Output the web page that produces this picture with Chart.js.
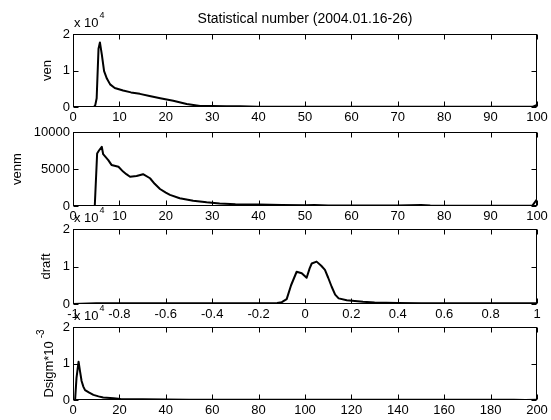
<!DOCTYPE html>
<html>
<head>
<meta charset="utf-8">
<script src="https://cdn.jsdelivr.net/npm/chart.js@4"></script>
<style>
  html, body { margin: 0; padding: 0; background: #fff; }
  #wrap { position: relative; width: 551px; height: 420px; overflow: hidden; }
  #wrap canvas { position: absolute; left: 0; }
</style>
</head>
<body>
<div id="wrap"></div>
<script>
// ---- data ----
const title = 'Statistical number (2004.01.16-26)'

// ven (x 10^4)
const venX = [0, 4.5, 4.8, 5.1, 5.5, 5.8, 6.2, 6.7, 7.3, 8, 9, 10.8, 12.5, 14.4, 16.5, 18.8, 21.6, 24.5, 27.4, 30, 33, 36, 40, 45, 50, 60, 70, 80, 90, 99, 100]
const venY = [0, 0, 0.05, 0.24, 1.6, 1.77, 1.45, 0.98, 0.78, 0.62, 0.52, 0.45, 0.40, 0.36, 0.30, 0.24, 0.17, 0.08, 0.03, 0.03, 0.02, 0.02, 0.01, 0.01, 0.005, 0.005, 0.005, 0.005, 0.005, 0.005, 0.06]

// venm
const venmX = [0, 4.5, 4.7, 5.2, 5.6, 6.2, 6.5, 7.6, 8.3, 9.8, 10.8, 11.5, 12.3, 13.7, 15.1, 16.6, 17.6, 18.75, 20, 20.9, 23, 25.9, 28.8, 31.6, 35, 40, 45, 50, 52, 55, 60, 70, 75, 77, 80, 90, 99, 100]
const venmY = [0, 0, 100, 7100, 7500, 8000, 7000, 6200, 5550, 5300, 4650, 4300, 3950, 4050, 4300, 3750, 3000, 2300, 1800, 1500, 1050, 700, 500, 350, 250, 200, 150, 100, 150, 80, 60, 60, 150, 60, 50, 50, 50, 900]

// draft (x 10^4)
const draftX = [-1, -0.9, -0.5, -0.2, -0.12, -0.1, -0.079, -0.06, -0.036, -0.014, 0.007, 0.02, 0.029, 0.05, 0.07, 0.086, 0.1, 0.115, 0.13, 0.145, 0.18, 0.25, 0.3, 0.4, 0.5, 0.6, 0.7, 0.8, 0.9, 1]
const draftY = [0, 0.02, 0.02, 0.02, 0.03, 0.05, 0.13, 0.5, 0.86, 0.82, 0.70, 0.95, 1.08, 1.13, 1.02, 0.91, 0.7, 0.46, 0.25, 0.15, 0.1, 0.06, 0.04, 0.03, 0.02, 0.02, 0.02, 0.02, 0.02, 0.02]

// Dsigm*10^-3 (x 10^4)
const dsigmX = [0, 0.9, 1.5, 2.4, 3.0, 3.7, 4.5, 5.2, 7, 8.8, 11, 13, 17.5, 20.5, 30, 50, 100, 150, 190, 195, 200]
const dsigmY = [0, 0, 0.6, 1.05, 0.8, 0.52, 0.36, 0.27, 0.2, 0.14, 0.1, 0.07, 0.05, 0.03, 0.02, 0.01, 0.01, 0.01, 0.01, 0.0, 0.01]

// axis ranges / ticks
const venXTicks = [0, 100, 10], venYTicks = [0, 2, 1]
const venmXTicks = [0, 100, 10], venmYTicks = [0, 10000, 5000]
const draftXTicks = [-1, 1, 0.2], draftYTicks = [0, 2, 1]
const dsigmXTicks = [0, 200, 20], dsigmYTicks = [0, 2, 1]

const FONT = "'Liberation Sans', Arial, Helvetica, sans-serif"
const TICK = 5

const panels = [
  { xs: venX, ys: venY, xt: venXTicks, yt: venYTicks, top: 34, bottom: 107, label: 'ven', labelPad: 40, expo: true, title: true },
  { xs: venmX, ys: venmY, xt: venmXTicks, yt: venmYTicks, top: 132, bottom: 206, label: 'venm', labelPad: 10, expo: false },
  { xs: draftX, ys: draftY, xt: draftXTicks, yt: draftYTicks, top: 229, bottom: 304, label: 'draft', labelPad: 39, expo: true },
  { xs: dsigmX, ys: dsigmY, xt: dsigmXTicks, yt: dsigmYTicks, top: 327, bottom: 400, label: null, labelPad: 0, expo: true, dsigm: true },
]

// box, inward ticks, exponent marks and the odd labels
const framePlugin = {
  id: 'frame',
  afterDraw(chart, args, o) {
    const { ctx, chartArea: a, scales: { x, y } } = chart
    const L = Math.round(a.left) + 0.5, R = Math.round(a.right) - 0.5
    const T = Math.round(a.top) + 0.5, B = Math.round(a.bottom) - 0.5
    ctx.save()
    ctx.strokeStyle = '#000'
    ctx.lineWidth = 1
    ctx.strokeRect(L, T, R - L, B - T)
    ctx.beginPath()
    x.ticks.forEach(t => {
      const px = Math.round(x.getPixelForValue(t.value)) + 0.5
      ctx.moveTo(px, B); ctx.lineTo(px, B - TICK)
      ctx.moveTo(px, T); ctx.lineTo(px, T + TICK)
    })
    y.ticks.forEach(t => {
      const py = Math.round(y.getPixelForValue(t.value)) + 0.5
      ctx.moveTo(L, py); ctx.lineTo(L + TICK, py)
      ctx.moveTo(R, py); ctx.lineTo(R - TICK, py)
    })
    ctx.stroke()

    ctx.fillStyle = '#000'
    ctx.textBaseline = 'alphabetic'
    if (o.expo) {
      ctx.font = '13px ' + FONT
      ctx.textAlign = 'left'
      ctx.fillText('x 10', a.left + 1, a.top - 7)
      const w = ctx.measureText('x 10').width
      ctx.font = '9px ' + FONT
      ctx.fillText('4', a.left + 2 + w, a.top - 16)
    }
    if (o.title) {
      ctx.font = '14px ' + FONT
      ctx.textAlign = 'center'
      ctx.fillText(title, (a.left + a.right) / 2, a.top - 11)
    }
    if (o.dsigm) {
      const main = 'Dsigm*10', sup = '-3'
      ctx.font = '13px ' + FONT
      const w1 = ctx.measureText(main).width
      ctx.font = '10px ' + FONT
      const w2 = ctx.measureText(sup).width
      const W = w1 + 3 + w2
      ctx.translate(53, (a.top + a.bottom) / 2)
      ctx.rotate(-Math.PI / 2)
      ctx.textAlign = 'left'
      ctx.font = '13px ' + FONT
      ctx.fillText(main, -W / 2, 0)
      ctx.font = '10px ' + FONT
      ctx.fillText(sup, -W / 2 + w1 + 3, -9)
    }
    ctx.restore()
  }
}

const wrap = document.getElementById('wrap')
const fmt = v => String(Math.round(v * 1000) / 1000)

panels.forEach((p, i) => {
  const canvasTop = i === 0 ? 0 : p.top - 22
  const padTop = p.top - canvasTop
  const h = p.bottom - p.top
  const cv = document.createElement('canvas')
  cv.width = 551
  cv.height = padTop + h + 22
  cv.style.top = canvasTop + 'px'
  cv.style.width = '551px'
  cv.style.height = cv.height + 'px'
  wrap.appendChild(cv)

  new Chart(cv, {
    type: 'line',
    data: {
      datasets: [{
        data: p.xs.map((x, k) => ({ x: x, y: p.ys[k] })),
        borderColor: '#000',
        borderWidth: 2,
        pointRadius: 0,
        tension: 0,
        fill: false,
        borderJoinStyle: 'round'
      }]
    },
    options: {
      responsive: false,
      animation: false,
      events: [],
      layout: { padding: { top: padTop, right: 14, left: 0, bottom: 0 } },
      plugins: {
        legend: { display: false },
        tooltip: { enabled: false },
        frame: { expo: p.expo, title: !!p.title, dsigm: !!p.dsigm }
      },
      scales: {
        x: {
          type: 'linear',
          min: p.xt[0], max: p.xt[1],
          ticks: { stepSize: p.xt[2], color: '#000', font: { family: FONT, size: 13 }, padding: 3, maxRotation: 0, autoSkip: false, callback: fmt },
          grid: { display: false, drawTicks: false },
          border: { display: false },
          afterFit(s) { s.height = 22 }
        },
        y: {
          type: 'linear',
          min: p.yt[0], max: p.yt[1],
          ticks: { stepSize: p.yt[2], color: '#000', font: { family: FONT, size: 13 }, padding: 3, callback: fmt },
          grid: { display: false, drawTicks: false },
          border: { display: false },
          title: { display: !!p.label, text: p.label || '', color: '#000', font: { family: FONT, size: 13 }, padding: { top: p.labelPad, bottom: 0 } },
          afterFit(s) { s.width = 73 }
        }
      }
    },
    plugins: [framePlugin]
  })
})
</script>
</body>
</html>
